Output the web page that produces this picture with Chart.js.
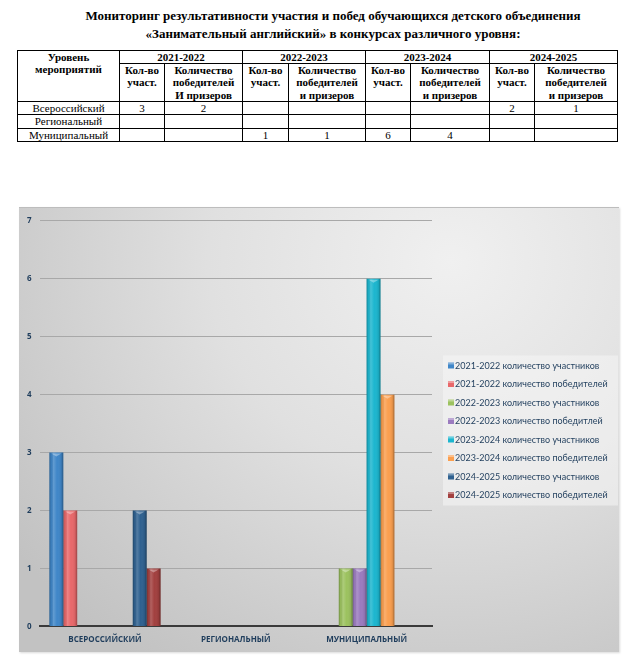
<!DOCTYPE html>
<html>
<head>
<meta charset="utf-8">
<script src="https://cdn.jsdelivr.net/npm/chart.js@4/dist/chart.umd.min.js"></script>
<style>
  html, body { margin:0; padding:0; background:#fff; }
  body { width:633px; height:663px; position:relative; overflow:hidden; }
  #title { position:absolute; left:0; top:7px; width:666px; text-align:center;
    font-family:"Liberation Serif","Times New Roman",serif; font-weight:bold; font-size:13px; line-height:18px; color:#000; }
  #tbl { position:absolute; left:17px; top:50px; border-collapse:collapse;
    font-family:"Liberation Serif","Times New Roman",serif; font-size:11px; line-height:12.2px; color:#000; }
  #tbl td, #tbl th { border:1px solid #000; padding:0 2px; text-align:center; }
  #tbl th { font-weight:bold; vertical-align:top; }
  #tbl td { height:12px; }
  #chartBox { position:absolute; left:19px; top:207px; width:600px; height:444px;
    background: radial-gradient(ellipse 90% 110% at 72% 12%, #f0f0f0 0%, #e0e0e0 45%, #cacaca 85%, #c2c2c2 100%);
    border-top:1px solid #bdbdbd; box-shadow: 1px 1px 2px rgba(0,0,0,0.15); }
</style>
</head>
<body>
<div id="title">Мониторинг результативности участия и побед обучающихся детского объединения<br>«Занимательный английский» в конкурсах различного уровня:</div>
<table id="tbl"></table>
<div id="chartBox"><canvas id="c" width="600" height="444"></canvas></div>
<script>
// ---- data ----
const categories = ['ВСЕРОССИЙСКИЙ', 'РЕГИОНАЛЬНЫЙ', 'МУНИЦИПАЛЬНЫЙ'];
const levelNames = ['Всероссийский', 'Региональный', 'Муниципальный'];
const years = ['2021-2022', '2022-2023', '2023-2024', '2024-2025'];
const participants2122 = [3, null, null];
const winners2122      = [2, null, null];
const participants2223 = [null, null, 1];
const winners2223      = [null, null, 1];
const participants2324 = [null, null, 6];
const winners2324      = [null, null, 4];
const participants2425 = [2, null, null];
const winners2425      = [1, null, null];
const seriesLabels = [
  '2021-2022 количество участников', '2021-2022 количество победителей',
  '2022-2023 количество участников', '2022-2023 количество победитлей',
  '2023-2024 количество участников', '2023-2024 количество победителей',
  '2024-2025 количество участников', '2024-2025 количество победителей'
];
const yTicks = [0, 1, 2, 3, 4, 5, 6, 7];

const seriesData = [participants2122, winners2122, participants2223, winners2223,
                    participants2324, winners2324, participants2425, winners2425];
const colors = ['#3f86c8', '#e8686a', '#9cc25f', '#9b7bbf', '#1cb6cf', '#fb9f4f', '#2f6190', '#a2403f'];

// ---- table ----
(function buildTable(){
  const t = document.getElementById('tbl');
  const colW = [[45, 78], [46, 77], [45, 79], [45, 83]];
  let h = '<tr><th rowspan="2" style="width:97px;height:11px;">Уровень<br>мероприятий</th>';
  years.forEach(y => h += '<th colspan="2" style="height:11px;">' + y + '</th>');
  h += '</tr><tr>';
  years.forEach((y, i) => {
    h += '<th style="width:' + (colW[i][0]-5) + 'px;height:37px;">Кол-во<br>участ.</th>';
    h += '<th style="width:' + (colW[i][1]-5) + 'px;">Количество<br>победителей<br>' + (i===0 ? 'И призеров' : 'и призеров') + '</th>';
  });
  h += '</tr>';
  levelNames.forEach((n, r) => {
    h += '<tr><td>' + n + '</td>';
    for (let k = 0; k < 8; k++) {
      const v = seriesData[k][r];
      h += '<td>' + (v == null ? '' : v) + '</td>';
    }
    h += '</tr>';
  });
  t.innerHTML = h;
})();

// ---- chart ----
const FONT = '"Open Sans", "Liberation Sans", sans-serif';
const LEGEND_FONT = 'Lato, "Open Sans", sans-serif';
const bevel = {
  id: 'bevel',
  afterDatasetsDraw(chart) {
    const ctx = chart.ctx;
    chart.data.datasets.forEach((ds, i) => {
      const meta = chart.getDatasetMeta(i);
      meta.data.forEach(el => {
        if (el.skip || el.y == null || isNaN(el.y)) return;
        const w = el.width, x0 = el.x - w/2, top = el.y, bot = el.base;
        if (bot - top < 1) return;
        const g = ctx.createLinearGradient(x0, 0, x0 + w, 0);
        g.addColorStop(0, 'rgba(0,0,0,0.28)');
        g.addColorStop(0.12, 'rgba(0,0,0,0.05)');
        g.addColorStop(0.3, 'rgba(255,255,255,0.18)');
        g.addColorStop(0.55, 'rgba(255,255,255,0.0)');
        g.addColorStop(0.85, 'rgba(0,0,0,0.08)');
        g.addColorStop(1, 'rgba(0,0,0,0.35)');
        ctx.save();
        ctx.fillStyle = g;
        ctx.fillRect(x0, top, w, bot - top);
        ctx.fillStyle = 'rgba(255,255,255,0.35)';
        ctx.beginPath();
        ctx.moveTo(x0 + 2, top + 1);
        ctx.lineTo(x0 + w - 2, top + 1);
        ctx.lineTo(el.x, top + 4);
        ctx.closePath();
        ctx.fill();
        ctx.restore();
      });
    });
  }
};
// legend drawn from the dataset labels/colours, to the right of the plot area
const sideLegend = {
  id: 'sideLegend',
  afterDraw(chart) {
    const ctx = chart.ctx;
    const ds = chart.data.datasets;
    const rowH = 18.5;
    const boxW = 175, boxH = rowH * ds.length + 2;
    const left = chart.chartArea.right + 11;
    const top = (chart.height - boxH) / 2 + 0.5;
    ctx.save();
    ctx.fillStyle = 'rgba(246,246,246,0.55)';
    ctx.fillRect(left, top, boxW, boxH);
    ctx.font = '9px ' + LEGEND_FONT;
    ctx.textBaseline = 'middle';
    ds.forEach((d, i) => {
      const cy = top + 10 + i * rowH;
      ctx.fillStyle = d.backgroundColor;
      ctx.fillRect(left + 5, cy - 3, 6, 6);
      ctx.fillStyle = 'rgba(255,255,255,0.35)';
      ctx.fillRect(left + 5, cy - 3, 6, 2);
      ctx.fillStyle = '#1f3d5c';
      ctx.fillText(d.label, left + 12, cy + 0.5);
    });
    ctx.restore();
  }
};

new Chart(document.getElementById('c'), {
  type: 'bar',
  data: {
    labels: categories,
    datasets: seriesLabels.map((lab, i) => ({
      label: lab,
      data: seriesData[i],
      backgroundColor: colors[i],
      borderWidth: 0,
      categoryPercentage: 0.85,
      barPercentage: 1.0
    }))
  },
  options: {
    responsive: false,
    animation: false,
    devicePixelRatio: 1,
    layout: { padding: { top: 6, left: 0, right: 187, bottom: 6 } },
    plugins: {
      tooltip: { enabled: false },
      legend: { display: false }
    },
    scales: {
      x: {
        grid: { display: false },
        border: { color: '#3a3a3a', width: 2 },
        ticks: { color: '#1f3d5c', font: { family: FONT, size: 8, weight: 'bold' }, padding: 1 }
      },
      y: {
        min: 0, max: 7,
        afterBuildTicks(axis) { axis.ticks = yTicks.map(v => ({ value: v })); },
        grid: { color: '#a8a8a8', lineWidth: 1, drawTicks: false },
        border: { display: false },
        ticks: { color: '#1f3d5c', padding: 8, font: { family: FONT, size: 8, weight: 'bold' } }
      }
    }
  },
  plugins: [bevel, sideLegend]
});
</script>
</body>
</html>
